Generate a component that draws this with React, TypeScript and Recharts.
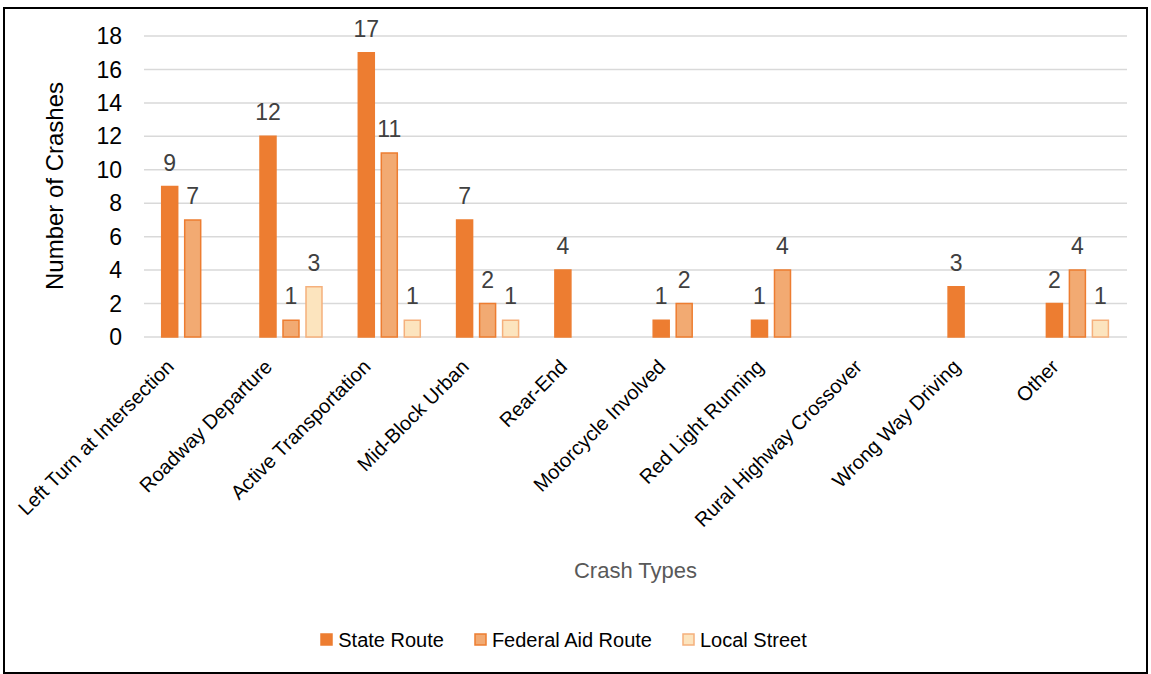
import React from "react";
import { BarChart, Bar, XAxis, YAxis, CartesianGrid, Legend, LabelList } from "recharts";

const categories = [
  "Left Turn at Intersection",
  "Roadway Departure",
  "Active Transportation",
  "Mid-Block Urban",
  "Rear-End",
  "Motorcycle Involved",
  "Red Light Running",
  "Rural Highway Crossover",
  "Wrong Way Driving",
  "Other",
];
const stateRoute = [9, 12, 17, 7, 4, 1, 1, null, 3, 2];
const federalAidRoute = [7, 1, 11, 2, null, 2, 4, null, null, 4];
const localStreet = [null, 3, 1, 1, null, null, null, null, null, 1];
const yTicks = [0, 2, 4, 6, 8, 10, 12, 14, 16, 18];

const data = categories.map((name, i) => ({
  name,
  state: stateRoute[i],
  federal: federalAidRoute[i],
  local: localStreet[i],
}));

const FONT = '"Liberation Sans Narrow", "Arial Narrow", "Liberation Sans", sans-serif';

const series = [
  { key: "state", name: "State Route", fill: "#ED7D31", stroke: "#ED7D31" },
  { key: "federal", name: "Federal Aid Route", fill: "#F2AA72", stroke: "#ED7D31" },
  { key: "local", name: "Local Street", fill: "#FCE4BE", stroke: "#F5B07C" },
];

const CategoryTick = (props: any) => {
  const { x, y, payload } = props;
  const ax = x - 18;
  const ay = y + 31;
  return (
    <text x={ax} y={ay} transform={`rotate(-45 ${ax} ${ay})`} textAnchor="end" fontSize={20} fill="#000" fontFamily={FONT}>
      {payload.value}
    </text>
  );
};

const YTitle = () => (
  <text x={54} y={186} transform="rotate(-90 54 186)" textAnchor="middle" dominantBaseline="central" fontSize={24} fill="#000" fontFamily={FONT}>
    Number of Crashes
  </text>
);

const LegendBox = () => (
  <div style={{ display: "flex", justifyContent: "center", alignItems: "center", height: 24, fontFamily: FONT, fontSize: 20, color: "#000" }}>
    {series.map((s, i) => (
      <div key={s.key} style={{ display: "flex", alignItems: "center", marginLeft: i === 0 ? 0 : 30 }}>
        <svg width={14} height={14} style={{ marginRight: 4 }}>
          <rect x={1} y={1} width={11} height={11} fill={s.fill} stroke={s.stroke} strokeWidth={1.5} />
        </svg>
        <span>{s.name}</span>
      </div>
    ))}
  </div>
);

export default function App() {
  return (
    <div style={{ position: "fixed", left: 0, top: 0, width: 1151, height: 674, background: "#fff" }}>
      <div style={{ position: "absolute", left: 3, top: 7, width: 1141, height: 663, border: "2px solid #000" }} />
      <div style={{ position: "absolute", left: 0, top: 0 }}>
        <BarChart
          width={1151}
          height={674}
          data={data}
          margin={{ top: 36, right: 24, left: 0, bottom: 22 }}
          barCategoryGap="18%"
          barGap={7}
        >
          <CartesianGrid vertical={false} stroke="#D9D9D9" strokeWidth={1.5} />
          <XAxis
            dataKey="name"
            interval={0}
            height={291}
            axisLine={false}
            tickLine={false}
            tickSize={0}
            tickMargin={0}
            tick={<CategoryTick />}
            label={{ value: "Crash Types", position: "insideBottom", offset: 50, fill: "#595959", fontSize: 22, fontFamily: FONT }}
          />
          <YAxis
            width={144}
            domain={[0, 18]}
            ticks={yTicks}
            axisLine={false}
            tickLine={false}
            tickSize={0}
            tickMargin={22}
            tick={{ fill: "#000", fontSize: 23, fontFamily: FONT }}
            label={<YTitle />}
          />
          <Legend verticalAlign="bottom" content={<LegendBox />} />
          {series.map((s) => (
            <Bar key={s.key} dataKey={s.key} name={s.name} fill={s.fill} stroke={s.stroke} strokeWidth={1.5} isAnimationActive={false}>
              <LabelList
                dataKey={s.key}
                position="top"
                offset={16}
                fill="#404040"
                fontSize={23}
                fontFamily={FONT}
                formatter={(v: any) => (v ? v : "")}
              />
            </Bar>
          ))}
        </BarChart>
      </div>
    </div>
  );
}
